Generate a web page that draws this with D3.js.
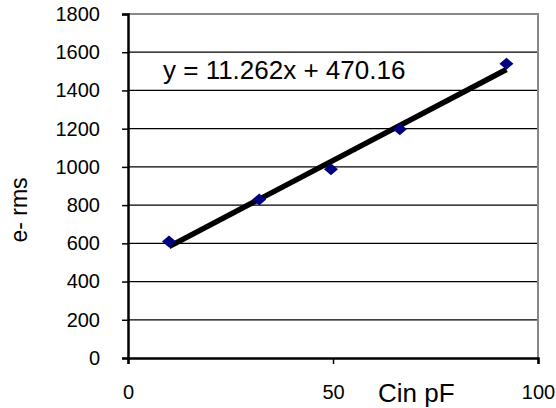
<!DOCTYPE html>
<html><head><meta charset="utf-8">
<script src="https://cdn.jsdelivr.net/npm/d3@7/dist/d3.min.js"></script>
<style>body{margin:0;background:#fff;} text{font-family:Arial,"Liberation Sans",sans-serif;}</style>
</head><body>
<svg id="c" width="556" height="408"></svg>
<script>
const cinValues = [10, 32, 49.5, 66.3, 92.3];
const rmsValues = [610, 829, 987, 1197, 1540];
const trendSlope = 11.262;
const trendIntercept = 470.16;
const equationLabel = "y = 11.262x + 470.16";
const yTicks = [0, 200, 400, 600, 800, 1000, 1200, 1400, 1600, 1800];
const xTicks = [0, 50, 100];
const xTitle = "Cin pF";
const yTitle = "e- rms";

const FONT = "Arial, 'Liberation Sans', sans-serif";
const svg = d3.select("#c");
const L = 128, R = 538, T = 14, B = 358;
const x = d3.scaleLinear().domain([0, 100]).range([L, R]);
const y = d3.scaleLinear().domain([0, 1800]).range([B, T]);

// gridlines
svg.append("g").selectAll("line").data(yTicks.filter(d => d > 0 && d < 1800)).join("line")
  .attr("x1", L).attr("x2", R).attr("y1", d => y(d)).attr("y2", d => y(d))
  .attr("stroke", "#000").attr("stroke-width", 1.2);
// plot border top/right grey
svg.append("line").attr("x1", L).attr("x2", R + 1).attr("y1", T).attr("y2", T).attr("stroke", "#888").attr("stroke-width", 2);
svg.append("line").attr("x1", R).attr("x2", R).attr("y1", T).attr("y2", B).attr("stroke", "#888").attr("stroke-width", 2);

// axes
const yAxis = d3.axisLeft(y).tickValues(yTicks).tickSize(6).tickPadding(22).tickFormat(d3.format("d"));
const gy = svg.append("g").attr("transform", `translate(${L},0)`).call(yAxis);
gy.select(".domain").attr("stroke", "#000").attr("stroke-width", 2.5);
gy.selectAll(".tick line").attr("stroke", "#000").attr("stroke-width", 1.5);
gy.selectAll("text").attr("font-size", 20).attr("fill", "#000").attr("font-family", FONT);

const xAxis = d3.axisBottom(x).tickValues(xTicks).tickSize(6).tickPadding(21).tickFormat(d3.format("d"));
const gx = svg.append("g").attr("transform", `translate(0,${B})`).call(xAxis);
gx.select(".domain").attr("stroke", "#000").attr("stroke-width", 2.5);
gx.selectAll(".tick line").attr("stroke", "#000").attr("stroke-width", 1.5);
gx.selectAll("text").attr("font-size", 20).attr("fill", "#000").attr("font-family", FONT);

// titles
svg.append("text").attr("x", 378).attr("y", 402).attr("font-size", 26).attr("font-family", FONT).text(xTitle);
svg.append("text").attr("transform", "translate(27,210) rotate(-90)").attr("text-anchor", "middle")
  .attr("font-size", 23).attr("font-family", FONT).text(yTitle);

// trendline
const x0 = d3.min(cinValues), x1 = d3.max(cinValues);
svg.append("line")
  .attr("x1", x(x0)).attr("y1", y(trendSlope * x0 + trendIntercept))
  .attr("x2", x(x1)).attr("y2", y(trendSlope * x1 + trendIntercept))
  .attr("stroke", "#000").attr("stroke-width", 5.5);

// markers (diamonds)
const pts = cinValues.map((c, i) => [c, rmsValues[i]]);
svg.append("g").selectAll("path").data(pts).join("path")
  .attr("d", "M-7,0L0,-6L7,0L0,6Z")
  .attr("transform", d => `translate(${x(d[0])},${y(d[1])})`)
  .attr("fill", "#000080");

svg.append("text").attr("x", 163).attr("y", 79).attr("font-size", 26).attr("font-family", FONT).text(equationLabel);
</script>
</body></html>
